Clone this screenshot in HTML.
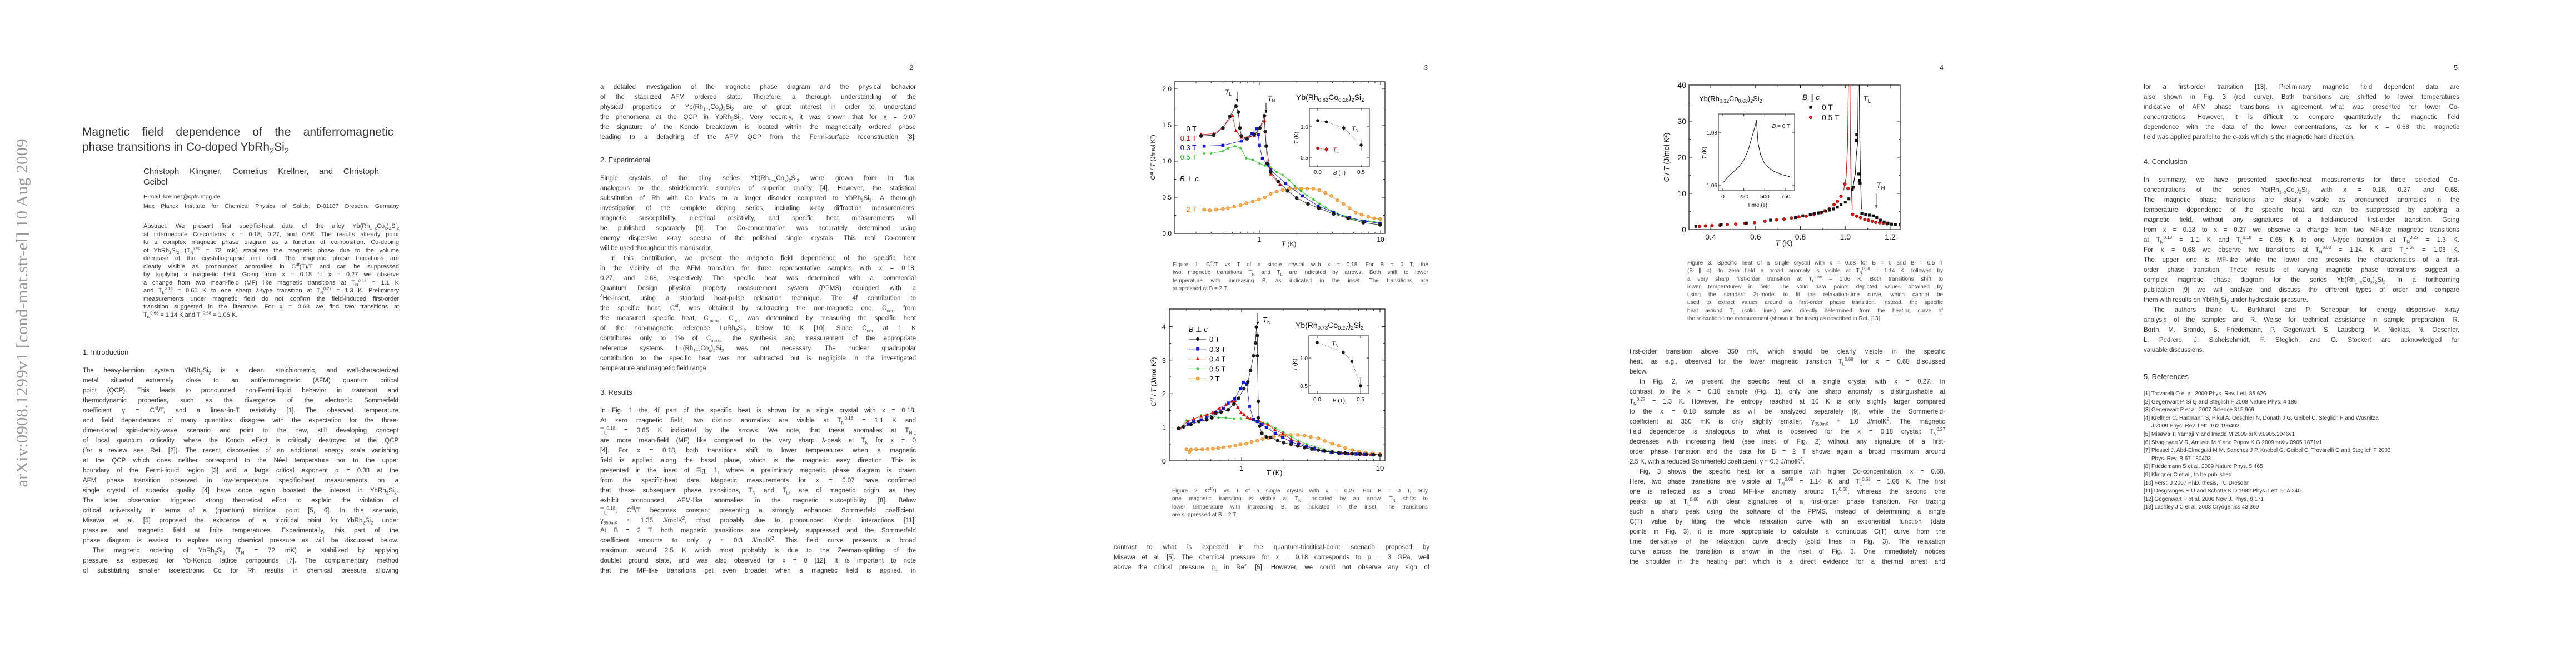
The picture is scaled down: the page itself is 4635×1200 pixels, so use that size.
<!DOCTYPE html>
<html><head><meta charset="utf-8"><title>Magnetic field dependence - Co-doped YbRh2Si2</title>
<style>
html,body{margin:0;padding:0;background:#fff}
body{width:4635px;height:1200px;position:relative;overflow:hidden;font-family:"Liberation Sans",sans-serif;color:#333}
.blk{position:absolute;width:568px;font-size:11.5px;color:#333}
.l{height:18px;line-height:18px;text-align:justify;text-align-last:justify;overflow:hidden;white-space:normal}
.s{text-align-last:left}
.ind{text-indent:18px}
.abs .l{height:14.5px;line-height:14.5px}
.cap{position:absolute;width:460px;font-size:10px;color:#444}
.cap .l{height:14.3px;line-height:14.3px}
.refs .l{height:14.6px;line-height:14.6px;font-size:10px;text-align:left;text-align-last:left;white-space:nowrap}
.h{position:absolute;font-size:13px;color:#333;line-height:18px}
.pn{position:absolute;font-size:13px;color:#444;top:114px}
sub,sup{font-size:70%;line-height:0}
</style></head>
<body>

<svg width="4635" height="1200" style="position:absolute;left:0;top:0">
<text x="40" y="572" transform="rotate(-90 40 563)" text-anchor="middle" textLength="627" lengthAdjust="spacingAndGlyphs" font-family="Liberation Serif, serif" font-size="28" fill="#9a9a9a">arXiv:0908.1299v1  [cond-mat.str-el]  10 Aug 2009</text>
</svg>

<!-- PAGE 1 -->
<div style="position:absolute;left:148px;top:224px;width:560px;font-size:21px;color:#333;line-height:27px">
<div class="l" style="height:27px;line-height:27px">Magnetic field dependence of the antiferromagnetic</div>
<div style="height:27px">phase transitions in Co-doped YbRh<sub>2</sub>Si<sub>2</sub></div>
</div>
<div style="position:absolute;left:258px;top:300px;width:424px;font-size:15px;line-height:20px;color:#333">
<div class="l">Christoph Klingner, Cornelius Krellner, and Christoph</div><div>Geibel</div></div>
<div style="position:absolute;left:258px;top:347px;width:460px;font-size:10.5px;line-height:15px;color:#333">
<div>E-mail: krellner@cpfs.mpg.de</div><div class="l">Max Planck Institute for Chemical Physics of Solids, D-01187 Dresden, Germany</div></div>
<div class="blk abs" style="left:258px;top:400px;width:460px;font-size:11px">
<div class="l">Abstract. We present first specific-heat data of the alloy Yb(Rh<sub>1−x</sub>Co<sub>x</sub>)<sub>2</sub>Si<sub>2</sub></div>
<div class="l">at intermediate Co-contents x = 0.18, 0.27, and 0.68. The results already point</div>
<div class="l">to a complex magnetic phase diagram as a function of composition. Co-doping</div>
<div class="l">of YbRh<sub>2</sub>Si<sub>2</sub> (T<sub>N</sub><sup>x=0</sup> = 72 mK) stabilizes the magnetic phase due to the volume</div>
<div class="l">decrease of the crystallographic unit cell. The magnetic phase transitions are</div>
<div class="l">clearly visible as pronounced anomalies in C<sup>4f</sup>(T)/T and can be suppressed</div>
<div class="l">by applying a magnetic field. Going from x = 0.18 to x = 0.27 we observe</div>
<div class="l">a change from two mean-field (MF) like magnetic transitions at T<sub>N</sub><sup>0.18</sup> = 1.1 K</div>
<div class="l">and T<sub>L</sub><sup>0.18</sup> = 0.65 K to one sharp λ-type transition at T<sub>N</sub><sup>0.27</sup> = 1.3 K. Preliminary</div>
<div class="l">measurements under magnetic field do not confirm the field-induced first-order</div>
<div class="l">transition suggested in the literature. For x = 0.68 we find two transitions at</div>
<div class="l s">T<sub>N</sub><sup>0.68</sup> = 1.14 K and T<sub>L</sub><sup>0.68</sup> = 1.06 K.</div>
</div>
<div class="h" style="left:149px;top:625px">1. Introduction</div>
<div class="blk" style="left:149px;top:658px">
<div class="l">The heavy-fermion system YbRh<sub>2</sub>Si<sub>2</sub> is a clean, stoichiometric, and well-characterized</div>
<div class="l">metal situated extremely close to an antiferromagnetic (AFM) quantum critical</div>
<div class="l">point (QCP). This leads to pronounced non-Fermi-liquid behavior in transport and</div>
<div class="l">thermodynamic properties, such as the divergence of the electronic Sommerfeld</div>
<div class="l">coefficient γ = C<sup>4f</sup>/T, and a linear-in-T resistivity [1]. The observed temperature</div>
<div class="l">and field dependences of many quantities disagree with the expectation for the three-</div>
<div class="l">dimensional spin-density-wave scenario and point to the new, still developing concept</div>
<div class="l">of local quantum criticality, where the Kondo effect is critically destroyed at the QCP</div>
<div class="l">(for a review see Ref. [2]). The recent discoveries of an additional energy scale vanishing</div>
<div class="l">at the QCP which does neither correspond to the Néel temperature nor to the upper</div>
<div class="l">boundary of the Fermi-liquid region [3] and a large critical exponent α = 0.38 at the</div>
<div class="l">AFM phase transition observed in low-temperature specific-heat measurements on a</div>
<div class="l">single crystal of superior quality [4] have once again boosted the interest in YbRh<sub>2</sub>Si<sub>2</sub>.</div>
<div class="l">The latter observation triggered strong theoretical effort to explain the violation of</div>
<div class="l">critical universality in terms of a (quantum) tricritical point [5, 6]. In this scenario,</div>
<div class="l">Misawa et al. [5] proposed the existence of a tricritical point for YbRh<sub>2</sub>Si<sub>2</sub> under</div>
<div class="l">pressure and magnetic field at finite temperatures. Experimentally, this part of the</div>
<div class="l">phase diagram is easiest to explore using chemical pressure as will be discussed below.</div>
<div class="l ind">The magnetic ordering of YbRh<sub>2</sub>Si<sub>2</sub> (T<sub>N</sub> = 72 mK) is stabilized by applying</div>
<div class="l">pressure as expected for Yb-Kondo lattice compounds [7]. The complementary method</div>
<div class="l">of substituting smaller isoelectronic Co for Rh results in chemical pressure allowing</div>
</div>

<!-- PAGE 2 -->
<div class="pn" style="left:1636px">2</div>
<div class="blk" style="left:1080px;top:148px">
<div class="l">a detailed investigation of the magnetic phase diagram and the physical behavior</div>
<div class="l">of the stabilized AFM ordered state. Therefore, a thorough understanding of the</div>
<div class="l">physical properties of Yb(Rh<sub>1−x</sub>Co<sub>x</sub>)<sub>2</sub>Si<sub>2</sub> are of great interest in order to understand</div>
<div class="l">the phenomena at the QCP in YbRh<sub>2</sub>Si<sub>2</sub>. Very recently, it was shown that for x = 0.07</div>
<div class="l">the signature of the Kondo breakdown is located within the magnetically ordered phase</div>
<div class="l">leading to a detaching of the AFM QCP from the Fermi-surface reconstruction [8].</div>
</div>
<div class="h" style="left:1080px;top:279px">2. Experimental</div>
<div class="blk" style="left:1080px;top:312px">
<div class="l">Single crystals of the alloy series Yb(Rh<sub>1−x</sub>Co<sub>x</sub>)<sub>2</sub>Si<sub>2</sub> were grown from In flux,</div>
<div class="l">analogous to the stoichiometric samples of superior quality [4]. However, the statistical</div>
<div class="l">substitution of Rh with Co leads to a larger disorder compared to YbRh<sub>2</sub>Si<sub>2</sub>. A thorough</div>
<div class="l">investigation of the complete doping series, including x-ray diffraction measurements,</div>
<div class="l">magnetic susceptibility, electrical resistivity, and specific heat measurements will</div>
<div class="l">be published separately [9]. The Co-concentration was accurately determined using</div>
<div class="l">energy dispersive x-ray spectra of the polished single crystals. This real Co-content</div>
<div class="l s">will be used throughout this manuscript.</div>
<div class="l ind">In this contribution, we present the magnetic field dependence of the specific heat</div>
<div class="l">in the vicinity of the AFM transition for three representative samples with x = 0.18,</div>
<div class="l">0.27, and 0.68, respectively. The specific heat was determined with a commercial</div>
<div class="l">Quantum Design physical property measurement system (PPMS) equipped with a</div>
<div class="l"><sup>3</sup>He-insert, using a standard heat-pulse relaxation technique. The 4f contribution to</div>
<div class="l">the specific heat, C<sup>4f</sup>, was obtained by subtracting the non-magnetic one, C<sub>nm</sub>, from</div>
<div class="l">the measured specific heat, C<sub>meas</sub>. C<sub>nm</sub> was determined by measuring the specific heat</div>
<div class="l">of the non-magnetic reference LuRh<sub>2</sub>Si<sub>2</sub> below 10 K [10]. Since C<sub>nm</sub> at 1 K</div>
<div class="l">contributes only to 1% of C<sub>meas</sub>, the synthesis and measurement of the appropriate</div>
<div class="l">reference systems Lu(Rh<sub>1−x</sub>Co<sub>x</sub>)<sub>2</sub>Si<sub>2</sub> was not necessary. The nuclear quadrupolar</div>
<div class="l">contribution to the specific heat was not subtracted but is negligible in the investigated</div>
<div class="l s">temperature and magnetic field range.</div>
</div>
<div class="h" style="left:1080px;top:697px">3. Results</div>
<div class="blk" style="left:1080px;top:730px">
<div class="l">In Fig. 1 the 4f part of the specific heat is shown for a single crystal with x = 0.18.</div>
<div class="l">At zero magnetic field, two distinct anomalies are visible at T<sub>N</sub><sup>0.18</sup> = 1.1 K and</div>
<div class="l">T<sub>L</sub><sup>0.18</sup> = 0.65 K indicated by the arrows. We note, that these anomalies at T<sub>N,L</sub></div>
<div class="l">are more mean-field (MF) like compared to the very sharp λ-peak at T<sub>N</sub> for x = 0</div>
<div class="l">[4]. For x = 0.18, both transitions shift to lower temperatures when a magnetic</div>
<div class="l">field is applied along the basal plane, which is the magnetic easy direction. This is</div>
<div class="l">presented in the inset of Fig. 1, where a preliminary magnetic phase diagram is drawn</div>
<div class="l">from the specific-heat data. Magnetic measurements for x = 0.07 have confirmed</div>
<div class="l">that these subsequent phase transitions, T<sub>N</sub> and T<sub>L</sub>, are of magnetic origin, as they</div>
<div class="l">exhibit pronounced, AFM-like anomalies in the magnetic susceptibility [8]. Below</div>
<div class="l">T<sub>L</sub><sup>0.18</sup>, C<sup>4f</sup>/T becomes constant presenting a strongly enhanced Sommerfeld coefficient,</div>
<div class="l">γ<sub>350mK</sub> ≈ 1.35 J/molK<sup>2</sup>, most probably due to pronounced Kondo interactions [11].</div>
<div class="l">At B = 2 T, both magnetic transitions are completely suppressed and the Sommerfeld</div>
<div class="l">coefficient amounts to only γ ≈ 0.3 J/molK<sup>2</sup>. This field curve presents a broad</div>
<div class="l">maximum around 2.5 K which most probably is due to the Zeeman-splitting of the</div>
<div class="l">doublet ground state, and was also observed for x = 0 [12]. It is important to note</div>
<div class="l">that the MF-like transitions get even broader when a magnetic field is applied, in</div>
</div>

<!-- PAGE 3 -->
<div class="pn" style="left:2562px">3</div>
<div class="cap" style="left:2110px;top:470px">
<div class="l">Figure 1. C<sup>4f</sup>/T vs T of a single crystal with x = 0.18. For B = 0 T, the</div>
<div class="l">two magnetic transitions T<sub>N</sub> and T<sub>L</sub> are indicated by arrows. Both shift to lower</div>
<div class="l">temperature with increasing B, as indicated in the inset. The transitions are</div>
<div class="l s">suppressed at B = 2 T.</div>
</div>
<div class="cap" style="left:2109px;top:877px">
<div class="l">Figure 2. C<sup>4f</sup>/T vs T of a single crystal with x = 0.27. For B = 0 T, only</div>
<div class="l">one magnetic transition is visible at T<sub>N</sub>, indicated by an arrow. T<sub>N</sub> shifts to</div>
<div class="l">lower temperature with increasing B, as indicated in the inset. The transitions</div>
<div class="l s">are suppressed at B = 2 T.</div>
</div>
<div class="blk" style="left:2004px;top:976px">
<div class="l">contrast to what is expected in the quantum-tricritical-point scenario proposed by</div>
<div class="l">Misawa et al. [5]. The chemical pressure for x = 0.18 corresponds to p = 3 GPa, well</div>
<div class="l">above the critical pressure p<sub>c</sub> in Ref. [5]. However, we could not observe any sign of</div>
</div>

<!-- PAGE 4 -->
<div class="pn" style="left:3490px">4</div>
<div class="cap" style="left:3036px;top:467px">
<div class="l">Figure 3. Specific heat of a single crystal with x = 0.68 for B = 0 and B = 0.5 T</div>
<div class="l">(B ∥ c). In zero field a broad anomaly is visible at T<sub>N</sub><sup>0.68</sup> = 1.14 K, followed by</div>
<div class="l">a very sharp first-order transition at T<sub>L</sub><sup>0.68</sup> = 1.06 K. Both transitions shift to</div>
<div class="l">lower temperatures in field. The solid data points depicted values obtained by</div>
<div class="l">using the standard 2τ-model to fit the relaxation-time curve, which cannot be</div>
<div class="l">used to extract values around a first-order phase transition. Instead, the specific</div>
<div class="l">heat around T<sub>L</sub> (solid lines) was directly determined from the heating curve of</div>
<div class="l s">the relaxation-time measurement (shown in the inset) as described in Ref. [13].</div>
</div>
<div class="blk" style="left:2932px;top:624px">
<div class="l">first-order transition above 350 mK, which should be clearly visible in the specific</div>
<div class="l">heat, as e.g., observed for the lower magnetic transition T<sub>L</sub><sup>0.68</sup> for x = 0.68 discussed</div>
<div class="l s">below.</div>
<div class="l ind">In Fig. 2, we present the specific heat of a single crystal with x = 0.27. In</div>
<div class="l">contrast to the x = 0.18 sample (Fig. 1), only one sharp anomaly is distinguishable at</div>
<div class="l">T<sub>N</sub><sup>0.27</sup> = 1.3 K. However, the entropy reached at 10 K is only slightly larger compared</div>
<div class="l">to the x = 0.18 sample as will be analyzed separately [9], while the Sommerfeld-</div>
<div class="l">coefficient at 350 mK is only slightly smaller, γ<sub>350mK</sub> ≈ 1.0 J/molK<sup>2</sup>. The magnetic</div>
<div class="l">field dependence is analogous to what is observed for the x = 0.18 crystal: T<sub>N</sub><sup>0.27</sup></div>
<div class="l">decreases with increasing field (see inset of Fig. 2) without any signature of a first-</div>
<div class="l">order phase transition and the data for B = 2 T shows again a broad maximum around</div>
<div class="l s">2.5 K, with a reduced Sommerfeld coefficient, γ ≈ 0.3 J/molK<sup>2</sup>.</div>
<div class="l ind">Fig. 3 shows the specific heat for a sample with higher Co-concentration, x = 0.68.</div>
<div class="l">Here, two phase transitions are visible at T<sub>N</sub><sup>0.68</sup> = 1.14 K and T<sub>L</sub><sup>0.68</sup> = 1.06 K. The first</div>
<div class="l">one is reflected as a broad MF-like anomaly around T<sub>N</sub><sup>0.68</sup>, whereas the second one</div>
<div class="l">peaks up at T<sub>L</sub><sup>0.68</sup> with clear signatures of a first-order phase transition. For tracing</div>
<div class="l">such a sharp peak using the software of the PPMS, instead of determining a single</div>
<div class="l">C(T) value by fitting the whole relaxation curve with an exponential function (data</div>
<div class="l">points in Fig. 3), it is more appropriate to calculate a continuous C(T) curve from the</div>
<div class="l">time derivative of the relaxation curve directly (solid lines in Fig. 3). The relaxation</div>
<div class="l">curve across the transition is shown in the inset of Fig. 3. One immediately notices</div>
<div class="l">the shoulder in the heating part which is a direct evidence for a thermal arrest and</div>
</div>

<!-- PAGE 5 -->
<div class="pn" style="left:4415px">5</div>
<div class="blk" style="left:3857px;top:148px">
<div class="l">for a first-order transition [13]. Preliminary magnetic field dependent data are</div>
<div class="l">also shown in Fig. 3 (red curve). Both transitions are shifted to lower temperatures</div>
<div class="l">indicative of AFM phase transitions in agreement what was presented for lower Co-</div>
<div class="l">concentrations. However, it is difficult to compare quantitatively the magnetic field</div>
<div class="l">dependence with the data of the lower concentrations, as for x = 0.68 the magnetic</div>
<div class="l s">field was applied parallel to the c-axis which is the magnetic hard direction.</div>
</div>
<div class="h" style="left:3857px;top:282px">4. Conclusion</div>
<div class="blk" style="left:3857px;top:315px">
<div class="l">In summary, we have presented specific-heat measurements for three selected Co-</div>
<div class="l">concentrations of the series Yb(Rh<sub>1−x</sub>Co<sub>x</sub>)<sub>2</sub>Si<sub>2</sub> with x = 0.18, 0.27, and 0.68.</div>
<div class="l">The magnetic phase transitions are clearly visible as pronounced anomalies in the</div>
<div class="l">temperature dependence of the specific heat and can be suppressed by applying a</div>
<div class="l">magnetic field, without any signatures of a field-induced first-order transition. Going</div>
<div class="l">from x = 0.18 to x = 0.27 we observe a change from two MF-like magnetic transitions</div>
<div class="l">at T<sub>N</sub><sup>0.18</sup> = 1.1 K and T<sub>L</sub><sup>0.18</sup> = 0.65 K to one λ-type transition at T<sub>N</sub><sup>0.27</sup> = 1.3 K.</div>
<div class="l">For x = 0.68 we observe two transitions at T<sub>N</sub><sup>0.68</sup> = 1.14 K and T<sub>L</sub><sup>0.68</sup> = 1.06 K.</div>
<div class="l">The upper one is MF-like while the lower one presents the characteristics of a first-</div>
<div class="l">order phase transition. These results of varying magnetic phase transitions suggest a</div>
<div class="l">complex magnetic phase diagram for the series Yb(Rh<sub>1−x</sub>Co<sub>x</sub>)<sub>2</sub>Si<sub>2</sub>. In a forthcoming</div>
<div class="l">publication [9] we will analyze and discuss the different types of order and compare</div>
<div class="l s">them with results on YbRh<sub>2</sub>Si<sub>2</sub> under hydrostatic pressure.</div>
<div class="l ind">The authors thank U. Burkhardt and P. Scheppan for energy dispersive x-ray</div>
<div class="l">analysis of the samples and R. Weise for technical assistance in sample preparation. R.</div>
<div class="l">Borth, M. Brando, S. Friedemann, P. Gegenwart, S. Lausberg, M. Nicklas, N. Oeschler,</div>
<div class="l">L. Pedrero, J. Sichelschmidt, F. Steglich, and O. Stockert are acknowledged for</div>
<div class="l s">valuable discussions.</div>
</div>
<div class="h" style="left:3857px;top:669px">5. References</div>
<div class="blk refs" style="left:3857px;top:702px">
<div class="l">[1] Trovarelli O et al. 2000 Phys. Rev. Lett. 85 626</div>
<div class="l">[2] Gegenwart P, Si Q and Steglich F 2008 Nature Phys. 4 186</div>
<div class="l">[3] Gegenwart P et al. 2007 Science 315 969</div>
<div class="l">[4] Krellner C, Hartmann S, Pikul A, Oeschler N, Donath J G, Geibel C, Steglich F and Wosnitza</div>
<div class="l">&nbsp;&nbsp;&nbsp;&nbsp;&nbsp;J 2009 Phys. Rev. Lett. 102 196402</div>
<div class="l">[5] Misawa T, Yamaji Y and Imada M 2009 arXiv:0905.2046v1</div>
<div class="l">[6] Shaginyan V R, Amusia M Y and Popov K G 2009 arXiv:0905.1871v1</div>
<div class="l">[7] Plessel J, Abd-Elmeguid M M, Sanchez J P, Knebel G, Geibel C, Trovarelli O and Steglich F 2003</div>
<div class="l">&nbsp;&nbsp;&nbsp;&nbsp;&nbsp;Phys. Rev. B 67 180403</div>
<div class="l">[8] Friedemann S et al. 2009 Nature Phys. 5 465</div>
<div class="l">[9] Klingner C et al., to be published</div>
<div class="l">[10] Ferstl J 2007 PhD. thesis, TU Dresden</div>
<div class="l">[11] Desgranges H U and Schotte K D 1982 Phys. Lett. 91A 240</div>
<div class="l">[12] Gegenwart P et al. 2006 New J. Phys. 8 171</div>
<div class="l">[13] Lashley J C et al. 2003 Cryogenics 43 369</div>
</div>

<svg id="charts" width="4635" height="1200" style="position:absolute;left:0;top:0" font-family="Liberation Sans, sans-serif">
<defs>
<clipPath id="clip3"><rect x="3039" y="153" width="380" height="260"/></clipPath>
</defs>
</svg>

<script>
// ---------- Figure 1 data (x = 0.18) ----------
const f1T_0T=[0.33,0.42,0.50,0.57,0.64,0.67,0.69,0.71,0.79,0.91,1.01,1.10,1.12,1.14,1.16,1.24,1.43,1.71,2.03,2.52,3.1,4.1,5.4,7.2,9.9];
const f1V_0T=[1.35,1.36,1.46,1.62,1.76,1.68,1.46,1.35,1.31,1.37,1.46,1.63,1.41,1.21,0.97,0.85,0.72,0.59,0.49,0.41,0.35,0.27,0.21,0.15,0.12];
const f1T_01T=[0.33,0.42,0.50,0.60,0.64,0.71,0.91,1.10,1.14,1.24,1.48];
const f1V_01T=[1.37,1.38,1.47,1.63,1.42,1.33,1.35,1.56,1.21,0.82,0.68];
const f1T_03T=[0.35,0.50,0.71,0.87,0.95,0.98,1.0,1.06,1.18,1.24,1.65,2.26,3.05,4.1,5.55,7.4,9.9];
const f1V_03T=[1.21,1.22,1.28,1.38,1.45,1.37,1.22,1.04,0.95,0.88,0.69,0.52,0.38,0.29,0.22,0.17,0.14];
const f1T_05T=[0.35,0.40,0.50,0.55,0.63,0.70,0.78,0.88,1.0,1.11,1.23,1.39,1.56,1.76,1.96,2.2,2.47,2.79,3.13,3.51,3.94,4.41,4.99,5.6,6.27,7.04,7.9,8.85,9.9];
const f1V_05T=[1.11,1.11,1.14,1.18,1.21,1.18,1.04,1.02,0.97,0.94,0.92,0.85,0.81,0.74,0.66,0.59,0.53,0.47,0.41,0.36,0.31,0.27,0.24,0.21,0.19,0.18,0.17,0.16,0.15];
const f1T_2T=[0.35,0.39,0.44,0.50,0.55,0.62,0.70,0.78,0.88,0.99,1.11,1.24,1.39,1.56,1.76,1.97,2.21,2.48,2.78,3.12,3.5,3.93,4.41,4.94,5.55,6.23,6.98,7.9,8.85,9.9];
const f1V_2T=[0.33,0.32,0.33,0.34,0.35,0.37,0.39,0.42,0.44,0.47,0.50,0.55,0.58,0.60,0.62,0.62,0.62,0.62,0.62,0.60,0.56,0.52,0.46,0.41,0.35,0.29,0.26,0.23,0.21,0.20];
const f1YTicks=[0,0.5,1.0,1.5,2.0];
const f1YLabels=['0.0','0.5','1.0','1.5','2.0'];
const f1XTicks=[1,10];
const f1XLabels=['1','10'];
const f1InsetB_TN=[0,0.1,0.3,0.5];
const f1InsetT_TN=[1.10,1.08,0.98,0.70];
const f1InsetErr_TN=[0.02,0.02,0.04,0.09];
const f1InsetB_TL=[0,0.1];
const f1InsetT_TL=[0.65,0.63];
const f1InsetErr_TL=[0.02,0.04];

// ---------- Figure 2 data (x = 0.27) ----------
const f2T_0T=[0.35,0.38,0.43,0.49,0.56,0.61,0.65,0.71,0.80,0.88,0.95,1.04,1.11,1.16,1.22,1.26,1.28,1.30,1.30,1.32,1.32,1.35,1.40,1.51,1.62,1.82,2.01,2.28,2.55,2.85,3.21,3.58,3.99,4.51,5.02,5.6,6.3,7.15,8.0,9.0,10];
const f2V_0T=[0.97,1.01,1.08,1.17,1.22,1.28,1.41,1.45,1.52,1.69,1.86,2.15,2.35,2.69,3.13,3.51,3.98,3.73,3.13,1.77,1.28,1.03,0.82,0.71,0.70,0.60,0.54,0.49,0.44,0.39,0.35,0.32,0.29,0.27,0.24,0.23,0.21,0.20,0.19,0.18,0.17];
const f2T_03T=[0.35,0.41,0.45,0.51,0.56,0.65,0.74,0.80,0.89,0.98,1.03,1.09,1.14,1.22,1.30,1.40,1.51,1.75,1.98,2.28,2.57,2.93,3.37,3.87,4.44,5.1,5.86,6.72,7.73,8.88,10];
const f2V_03T=[0.96,1.09,1.17,1.22,1.28,1.43,1.56,1.72,1.84,2.15,2.34,2.28,1.62,1.23,1.17,1.08,0.99,0.82,0.70,0.56,0.49,0.42,0.35,0.29,0.25,0.23,0.21,0.20,0.19,0.18,0.17];
const f2T_04T=[0.36,0.41,0.45,0.51,0.56,0.62,0.69,0.77,0.85,0.89,0.94,0.99,1.04,1.10,1.16,1.23,1.34,1.43,1.56,1.74,1.99,2.28,2.59,2.95,3.37,3.87,4.51,5.26,6.14,7.36,8.6,10];
const f2V_04T=[0.98,1.18,1.25,1.32,1.37,1.44,1.56,1.67,1.77,1.78,1.59,1.43,1.38,1.29,1.25,1.22,1.18,1.12,1.07,0.92,0.81,0.64,0.54,0.45,0.36,0.30,0.25,0.23,0.21,0.20,0.19,0.18];
const f2T_05T=[0.36,0.40,0.45,0.51,0.57,0.68,0.77,0.88,0.99,1.13,1.25,1.38,1.53,1.76,1.99,2.28,2.57,2.95,3.37,3.93,4.51,5.26,6.32,7.36,8.74,10];
const f2V_05T=[0.97,1.20,1.23,1.36,1.38,1.28,1.28,1.25,1.25,1.25,1.19,1.14,1.11,0.97,0.86,0.72,0.60,0.50,0.42,0.34,0.28,0.24,0.21,0.20,0.19,0.18];
const f2T_2T=[0.40,0.42,0.43,0.47,0.52,0.57,0.62,0.68,0.74,0.82,0.90,0.98,1.08,1.18,1.30,1.42,1.56,1.71,1.90,2.06,2.26,2.55,2.85,3.16,3.58,3.99,4.51,5.02,5.6,6.32,7.06,7.85,8.88,10];
const f2V_2T=[0.34,0.27,0.33,0.34,0.34,0.35,0.36,0.38,0.40,0.43,0.45,0.49,0.51,0.56,0.60,0.65,0.68,0.72,0.75,0.76,0.77,0.77,0.75,0.71,0.67,0.59,0.51,0.45,0.38,0.32,0.28,0.24,0.22,0.20];
const f2YTicks=[0,1,2,3,4];
const f2YLabels=['0','1','2','3','4'];
const f2XTicks=[1,10];
const f2XLabels=['1','10'];
const f2InsetB=[0,0.3,0.4,0.5];
const f2InsetT=[1.28,1.10,0.94,0.50];
const f2InsetErr=[0.02,0.05,0.10,0.15];

// ---------- Figure 3 data (x = 0.68) ----------
const f3T_0T=[0.334,0.447,0.559,0.667,0.778,0.811,0.844,0.863,0.88,0.897,0.914,0.931,0.948,0.965,0.981,1.0,1.016,1.031,1.035,1.049,1.051,1.06,1.064,1.066,1.074,1.091,1.107,1.124,1.14,1.157,1.173,1.19,1.206,1.223,1.244];
const f3V_0T=[0.9,1.3,1.8,2.6,3.3,3.8,4.1,4.4,4.6,4.8,5.1,5.4,5.7,6.2,6.9,7.6,8.5,11.0,11.7,24.7,26.3,15.4,13.6,12.8,4.45,4.2,4.0,3.8,3.3,2.6,2.1,1.8,1.5,1.4,1.3];
const f3T_05T=[0.35,0.377,0.406,0.441,0.474,0.512,0.553,0.596,0.642,0.694,0.727,0.76,0.793,0.826,0.859,0.892,0.909,0.929,0.95,0.965,0.981,0.998,1.012,1.033,1.051,1.068,1.087,1.103,1.12,1.136,1.153,1.169,1.186];
const f3V_05T=[0.9,1.0,1.1,1.2,1.4,1.5,1.7,1.9,2.3,2.7,2.9,3.2,3.5,3.7,4.2,4.7,5.2,5.7,6.9,7.8,9.2,12.6,11.4,4.2,3.7,3.3,2.8,2.6,2.3,2.0,1.9,1.8,1.6];
const f3LineT_05T=[0.993,1.004,1.01,1.015,1.02,1.023,1.026,1.031];
const f3LineV_05T=[10.9,14.6,23,45,45,23,12.8,5.6];
const f3LineT_0T=[1.031,1.045,1.049,1.055,1.059,1.062,1.064,1.067,1.072];
const f3LineV_0T=[10.7,15.6,20.5,24,45,45,28,17,5.6];
const f3YTicks=[0,10,20,30,40];
const f3YLabels=['0','10','20','30','40'];
const f3XTicks=[0.4,0.6,0.8,1.0,1.2];
const f3XLabels=['0.4','0.6','0.8','1.0','1.2'];
const f3InsetTime=[0,50,100,150,200,250,300,350,390,400,420,450,500,550,600,700,800];
const f3InsetTemp=[1.0608,1.0628,1.0643,1.0657,1.0672,1.0695,1.0730,1.0785,1.0830,1.0846,1.0760,1.0715,1.0680,1.0665,1.0654,1.0640,1.0632];
const f3InsetXTicks=[0,250,500,750];
const f3InsetYTicks=[1.06,1.08];
const f3InsetYLabels=['1.06','1.08'];

const NS='http://www.w3.org/2000/svg';
const root=document.getElementById('charts');

function mk(tag,parent,attrs){const e=document.createElementNS(NS,tag);for(const k in attrs)e.setAttribute(k,attrs[k]);parent.appendChild(e);return e;}
function grp(parent,name){const g=mk('g',parent,{});


return g;}
function txt(parent,x,y,parts,size,anchor,color,name,extra){
  const t=mk('text',parent,{x:x,y:y,'font-size':size,'text-anchor':anchor||'start',fill:color||'#111'});
  
  
  if(extra)for(const k in extra)t.setAttribute(k,extra[k]);
  if(typeof parts==='string'){t.textContent=parts;return t;}
  parts.forEach(p=>{const s=mk('tspan',t,{});s.textContent=p[0];
    if(p[1]==='sub'){s.setAttribute('baseline-shift','-30%');s.setAttribute('font-size',size*0.68);}
    if(p[1]==='sup'){s.setAttribute('baseline-shift','45%');s.setAttribute('font-size',size*0.68);}
    if(p[1]==='i'){s.setAttribute('font-style','italic');}
  });
  return t;
}
function frame(parent,x0,x1,y0,y1,name,sw){
  const r=mk('rect',parent,{x:x0,y:y0,width:x1-x0,height:y1-y0,fill:'none',stroke:'#222','stroke-width':sw||1.3});
  
  
}
function vtick(parent,x,y0,y1,len){mk('line',parent,{x1:x,x2:x,y1:y1,y2:y1-len,stroke:'#222','stroke-width':1});mk('line',parent,{x1:x,x2:x,y1:y0,y2:y0+len,stroke:'#222','stroke-width':1});}
function htick(parent,y,x0,x1,len){mk('line',parent,{x1:x0,x2:x0+len,y1:y,y2:y,stroke:'#222','stroke-width':1});mk('line',parent,{x1:x1,x2:x1-len,y1:y,y2:y,stroke:'#222','stroke-width':1});}

function star(cx,cy,r){let p=[];for(let i=0;i<10;i++){const a=-Math.PI/2+i*Math.PI/5;const rr=i%2?r*0.45:r;p.push((cx+rr*Math.cos(a)).toFixed(1)+','+(cy+rr*Math.sin(a)).toFixed(1));}return p.join(' ');}
function marker(parent,shape,x,y,color,name,size){
  const s=size||3.2;let e;
  if(shape==='circle'){e=mk('circle',parent,{cx:x,cy:y,r:s,fill:color,stroke:'#000','stroke-width':0.4});}
  else if(shape==='ocircle'){e=mk('circle',parent,{cx:x,cy:y,r:s,fill:'#f7b15a',stroke:color,'stroke-width':0.9});}
  else if(shape==='square'){e=mk('rect',parent,{x:x-s,y:y-s,width:2*s,height:2*s,fill:color});}
  else if(shape==='tri'){e=mk('polygon',parent,{points:(x)+','+(y-s*1.2)+' '+(x-s*1.1)+','+(y+s*0.8)+' '+(x+s*1.1)+','+(y+s*0.8),fill:color});}
  else {e=mk('polygon',parent,{points:star(x,y,s*1.2),fill:color});}
  
  
}
function series(parent,Ts,Vs,fx,fy,color,shape,name,lineColor,noLine,size){
  const g=grp(parent,name);
  if(!noLine){const pts=Ts.map((t,i)=>fx(t).toFixed(1)+','+fy(Vs[i]).toFixed(1)).join(' ');
    const pl=mk('polyline',g,{points:pts,fill:'none',stroke:lineColor||color,'stroke-width':0.9});
    
    }
  Ts.forEach((t,i)=>marker(g,shape,fx(t),fy(Vs[i]),color,name+'-point',size));
}
function arrow(parent,x,y0,y1,name,color){
  const g=grp(parent,name);
  mk('line',g,{x1:x,x2:x,y1:y0,y2:y1-4,stroke:color||'#111','stroke-width':1});
  mk('polygon',g,{points:x+','+y1+' '+(x-2.5)+','+(y1-6)+' '+(x+2.5)+','+(y1-6),fill:color||'#111'});
}
const log10=Math.log10;

// ================= FIGURE 1 =================
(function(){
const g=grp(root,'figure1-chart');
const fx=T=>2266+218*log10(T), fy=v=>420-130*v;
const X0=2113,X1=2492,Y0=147,Y1=420;
frame(g,X0,X1,Y0,Y1,'figure1-plot-frame');
f1YTicks.forEach((v,i)=>{htick(g,fy(v),X0,X1,6);txt(g,X0-5,fy(v)+4,f1YLabels[i],12,'end','#111','y-tick-label');});
for(let v=0.25;v<2.1;v+=0.5)htick(g,fy(v),X0,X1,3);
f1XTicks.forEach((t,i)=>{vtick(g,fx(t),Y0,Y1,6);txt(g,fx(t),Y1+15,f1XLabels[i],12,'middle','#111','x-tick-label');});
[0.3,0.4,0.5,0.6,0.7,0.8,0.9,2,3,4,5,6,7,8,9].forEach(t=>vtick(g,fx(t),Y0,Y1,3));
txt(g,2319,443,[['T','i'],[' (K)']],12,'middle','#111','x-axis-title');
txt(g,2078,283,[['C','i'],['4f','sup'],[' / '],['T','i'],[' (J/mol K'],['2','sup'],[')']],11,'middle','#111','y-axis-title',{transform:'rotate(-90 2078 283)'});
series(g,f1T_2T,f1V_2T,fx,fy,'#e8861a','ocircle','series-2T','#f0a040',false,2.8);
series(g,f1T_05T,f1V_05T,fx,fy,'#22c022','star','series-0.5T','#33cc33',false,2.6);
series(g,f1T_03T,f1V_03T,fx,fy,'#1414dc','square','series-0.3T','#2222dd',false,2.8);
series(g,f1T_01T,f1V_01T,fx,fy,'#e01010','tri','series-0.1T','#e02020',false,3);
series(g,f1T_0T,f1V_0T,fx,fy,'#1a1a1a','circle','series-0T','#333',false,3.1);
txt(g,2153,236,'0 T',13,'end','#111','legend-0T');
txt(g,2153,253,'0.1 T',13,'end','#e01010','legend-0.1T');
txt(g,2153,270,'0.3 T',13,'end','#1414dc','legend-0.3T');
txt(g,2153,287,'0.5 T',13,'end','#22c022','legend-0.5T');
txt(g,2153,381,'2 T',13,'end','#e8861a','legend-2T');
txt(g,2123,326,[['B','i'],[' ⊥ '],['c','i']],13,'start','#111','field-direction-label');
txt(g,2204,170,[['T','i'],['L','sub']],12,'start','#111','TL-label');
arrow(g,2226,165,184,'TL-arrow');
txt(g,2281,182,[['T','i'],['N','sub']],12,'start','#111','TN-label');
arrow(g,2278,185,204,'TN-arrow');
txt(g,2332,180,[['Yb(Rh'],['0.82','sub'],['Co'],['0.18','sub'],[')'],['2','sub'],['Si'],['2','sub']],14,'start','#111','figure1-compound-label');
// inset
const ig=grp(g,'figure1-inset');
const ix=B=>2371+B*156, iy=T=>228-(T-1)*110;
frame(ig,2356,2464,195,300,'figure1-inset-frame',1);
[0.5,1.0].forEach(v=>{htick(ig,iy(v),2356,2464,4);txt(ig,2354,iy(v)+4,v.toFixed(1),10,'end','#111','inset-y-tick-label');});
[0,0.5].forEach(b=>{vtick(ig,ix(b),195,300,4);txt(ig,ix(b),313,b.toFixed(1),10,'middle','#111','inset-x-tick-label');});
txt(ig,2410,314,[['B','i'],[' (T)']],10,'middle','#111','inset-x-axis-title');
txt(ig,2336,248,[['T','i'],[' (K)']],10,'middle','#111','inset-y-axis-title',{transform:'rotate(-90 2336 248)'});
const tnl=mk('polyline',ig,{points:f1InsetB_TN.map((b,i)=>ix(b)+','+iy(f1InsetT_TN[i])).join(' '),fill:'none',stroke:'#555','stroke-dasharray':'1.5,1.5','stroke-width':0.8});


f1InsetB_TN.forEach((b,i)=>{mk('line',ig,{x1:ix(b),x2:ix(b),y1:iy(f1InsetT_TN[i]-f1InsetErr_TN[i]),y2:iy(f1InsetT_TN[i]+f1InsetErr_TN[i]),stroke:'#333','stroke-width':0.8});marker(ig,'circle',ix(b),iy(f1InsetT_TN[i]),'#1a1a1a','inset-TN-point',2.6);});
const tll=mk('polyline',ig,{points:f1InsetB_TL.map((b,i)=>ix(b)+','+iy(f1InsetT_TL[i])).join(' '),fill:'none',stroke:'#e01010','stroke-dasharray':'1.5,1.5','stroke-width':0.8});


f1InsetB_TL.forEach((b,i)=>{mk('line',ig,{x1:ix(b),x2:ix(b),y1:iy(f1InsetT_TL[i]-f1InsetErr_TL[i]),y2:iy(f1InsetT_TL[i]+f1InsetErr_TL[i]),stroke:'#e01010','stroke-width':0.8});marker(ig,'circle',ix(b),iy(f1InsetT_TL[i]),'#e01010','inset-TL-point',2.6);});
txt(ig,2432,235,[['T','i'],['N','sub']],11,'start','#111','inset-TN-label');
txt(ig,2398,273,[['T','i'],['L','sub']],11,'start','#e01010','inset-TL-label');
})();

// ================= FIGURE 2 =================
(function(){
const g=grp(root,'figure2-chart');
const fx=T=>2234+249*log10(T), fy=v=>829-60.4*v;
const X0=2104,X1=2492,Y0=556,Y1=829;
frame(g,X0,X1,Y0,Y1,'figure2-plot-frame');
f2YTicks.forEach((v,i)=>{htick(g,fy(v),X0,X1,6);txt(g,X0-6,fy(v)+5,f2YLabels[i],13,'end','#111','y-tick-label');});
[0.5,1.5,2.5,3.5].forEach(v=>htick(g,fy(v),X0,X1,3));
f2XTicks.forEach((t,i)=>{vtick(g,fx(t),Y0,Y1,6);txt(g,fx(t),Y1+18,f2XLabels[i],13,'middle','#111','x-tick-label');});
[0.4,0.5,0.6,0.7,0.8,0.9,2,3,4,5,6,7,8,9].forEach(t=>vtick(g,fx(t),Y0,Y1,3));
txt(g,2293,855,[['T','i'],[' (K)']],13,'middle','#111','x-axis-title');
txt(g,2080,687,[['C','i'],['4f','sup'],[' / '],['T','i'],[' (J/mol K'],['2','sup'],[')']],12,'middle','#111','y-axis-title',{transform:'rotate(-90 2080 687)'});
series(g,f2T_2T,f2V_2T,fx,fy,'#e8861a','ocircle','series-2T','#f0a040',false,2.8);
series(g,f2T_05T,f2V_05T,fx,fy,'#22c022','star','series-0.5T','#33cc33',false,2.6);
series(g,f2T_04T,f2V_04T,fx,fy,'#e01010','tri','series-0.4T','#e02020',false,3);
series(g,f2T_03T,f2V_03T,fx,fy,'#1414dc','square','series-0.3T','#2222dd',false,2.8);
series(g,f2T_0T,f2V_0T,fx,fy,'#1a1a1a','circle','series-0T','#333',false,3);
txt(g,2139,597,[['B','i'],[' ⊥ '],['c','i']],13,'start','#111','field-direction-label');
const lg=[['0 T','#1a1a1a','circle'],['0.3 T','#1414dc','square'],['0.4 T','#e01010','tri'],['0.5 T','#22c022','star'],['2 T','#e8861a','ocircle']];
lg.forEach((e,i)=>{const y=610+i*17.8;const lgg=grp(g,'legend-entry');mk('line',lgg,{x1:2139,x2:2170,y1:y,y2:y,stroke:e[1],'stroke-width':1});marker(lgg,e[2],2155,y,e[1],'legend-marker',2.8);txt(lgg,2176,y+5,e[0],13,'start','#111','legend-label');});
txt(g,2272,580,[['T','i'],['N','sub']],13,'start','#111','TN-label');
arrow(g,2263,563,585,'TN-arrow');
txt(g,2331,590,[['Yb(Rh'],['0.73','sub'],['Co'],['0.27','sub'],[')'],['2','sub'],['Si'],['2','sub']],14,'start','#111','figure2-compound-label');
const ig=grp(g,'figure2-inset');
const ix=B=>2370+B*156, iy=T=>644-(T-1)*100;
frame(ig,2355,2463,604,708,'figure2-inset-frame',1);
[0.5,1.0].forEach(v=>{htick(ig,iy(v),2355,2463,4);txt(ig,2353,iy(v)+4,v.toFixed(1),10,'end','#111','inset-y-tick-label');});
[0,0.5].forEach(b=>{vtick(ig,ix(b),604,708,4);txt(ig,ix(b),722,b.toFixed(1),10,'middle','#111','inset-x-tick-label');});
txt(ig,2409,724,[['B','i'],[' (T)']],10,'middle','#111','inset-x-axis-title');
txt(ig,2333,656,[['T','i'],[' (K)']],10,'middle','#111','inset-y-axis-title',{transform:'rotate(-90 2333 656)'});
const pl=mk('polyline',ig,{points:f2InsetB.map((b,i)=>ix(b)+','+iy(f2InsetT[i])).join(' '),fill:'none',stroke:'#666','stroke-dasharray':'1.5,1.5','stroke-width':0.8});


f2InsetB.forEach((b,i)=>{mk('line',ig,{x1:ix(b),x2:ix(b),y1:iy(f2InsetT[i]-f2InsetErr[i]),y2:iy(f2InsetT[i]+f2InsetErr[i]),stroke:'#444','stroke-width':0.8});marker(ig,'circle',ix(b),iy(f2InsetT[i]),'#1a1a1a','inset-TN-point',2.6);});
txt(ig,2396,622,[['T','i'],['N','sub']],11,'start','#111','inset-TN-label');
})();

// ================= FIGURE 3 =================
(function(){
const g=grp(root,'figure3-chart');
const fx=T=>3078+(T-0.4)*403.75, fy=v=>413-6.5*v;
const X0=3039,X1=3419,Y0=153,Y1=413;
frame(g,X0,X1,Y0,Y1,'figure3-plot-frame');
f3YTicks.forEach((v,i)=>{htick(g,fy(v),X0,X1,6);txt(g,X0-5,fy(v)+5,f3YLabels[i],14,'end','#111','y-tick-label');});
[5,15,25,35].forEach(v=>htick(g,fy(v),X0,X1,3));
f3XTicks.forEach((t,i)=>{vtick(g,fx(t),Y0,Y1,6);txt(g,fx(t),Y1+18,f3XLabels[i],14,'middle','#111','x-tick-label');});
[0.5,0.7,0.9,1.1].forEach(t=>vtick(g,fx(t),Y0,Y1,3));
txt(g,3210,442,[['T','i'],[' (K)']],14,'middle','#111','x-axis-title');
txt(g,3003,283,[['C','i'],[' / '],['T','i'],[' (J/mol K'],['2','sup'],[')']],13,'middle','#111','y-axis-title',{transform:'rotate(-90 3003 283)'});
const cg=grp(g,'figure3-clipped-data');cg.setAttribute('clip-path','url(#clip3)');
const rl=mk('polyline',cg,{points:f3LineT_05T.map((t,i)=>fx(t)+','+fy(f3LineV_05T[i])).join(' '),fill:'none',stroke:'#e01010','stroke-width':1.2});


const bl=mk('polyline',cg,{points:f3LineT_0T.map((t,i)=>fx(t)+','+fy(f3LineV_0T[i])).join(' '),fill:'none',stroke:'#111','stroke-width':1.2});


series(cg,f3T_05T,f3V_05T,fx,fy,'#e80808','circle','series-0.5T',null,true,2.8);
series(cg,f3T_0T,f3V_0T,fx,fy,'#111','square','series-0T',null,true,2.6);
txt(g,3057,182,[['Yb(Rh'],['0.32','sub'],['Co'],['0.68','sub'],[')'],['2','sub'],['Si'],['2','sub']],13,'start','#111','figure3-compound-label');
txt(g,3243,180,[['B','i'],[' ∥ '],['c','i']],14,'start','#111','field-direction-label');
const l1=grp(g,'legend-entry');marker(l1,'square',3258,193,'#111','legend-marker',2.6);txt(l1,3278,198,'0 T',14,'start','#111','legend-label');
const l2=grp(g,'legend-entry');marker(l2,'circle',3258,211,'#e80808','legend-marker',2.8);txt(l2,3278,216,'0.5 T',14,'start','#111','legend-label');
txt(g,3352,182,[['T','i'],['L','sub']],14,'start','#111','TL-label');
txt(g,3376,338,[['T','i'],['N','sub']],14,'start','#111','TN-label');
arrow(g,3376,348,375,'TN-arrow','#555');
const ig=grp(g,'figure3-inset');
const ix=t=>3100+t*0.1507, iy=T=>333-(T-1.06)*4750;
mk('rect',ig,{x:3092,y:205,width:137,height:138,fill:'#fff'});
frame(ig,3092,3229,205,343,'figure3-inset-frame',1);
f3InsetYTicks.forEach((v,i)=>{htick(ig,iy(v),3092,3229,4);txt(ig,3090,iy(v)+4,f3InsetYLabels[i],10,'end','#111','inset-y-tick-label');});
f3InsetXTicks.forEach(t=>{vtick(ig,ix(t),205,343,4);txt(ig,ix(t),357,String(t),10,'middle','#111','inset-x-tick-label');});
txt(ig,3162,372,'Time (s)',10,'middle','#111','inset-x-axis-title');
txt(ig,3070,275,[['T','i'],[' (K)']],10,'middle','#111','inset-y-axis-title',{transform:'rotate(-90 3070 275)'});
const ic=mk('polyline',ig,{points:f3InsetTime.map((t,i)=>ix(t).toFixed(1)+','+iy(f3InsetTemp[i]).toFixed(1)).join(' '),fill:'none',stroke:'#111','stroke-width':1});


txt(ig,3221,230,[['B','i'],[' = 0 T']],10,'end','#111','inset-field-label');
})();
</script>
</body></html>
